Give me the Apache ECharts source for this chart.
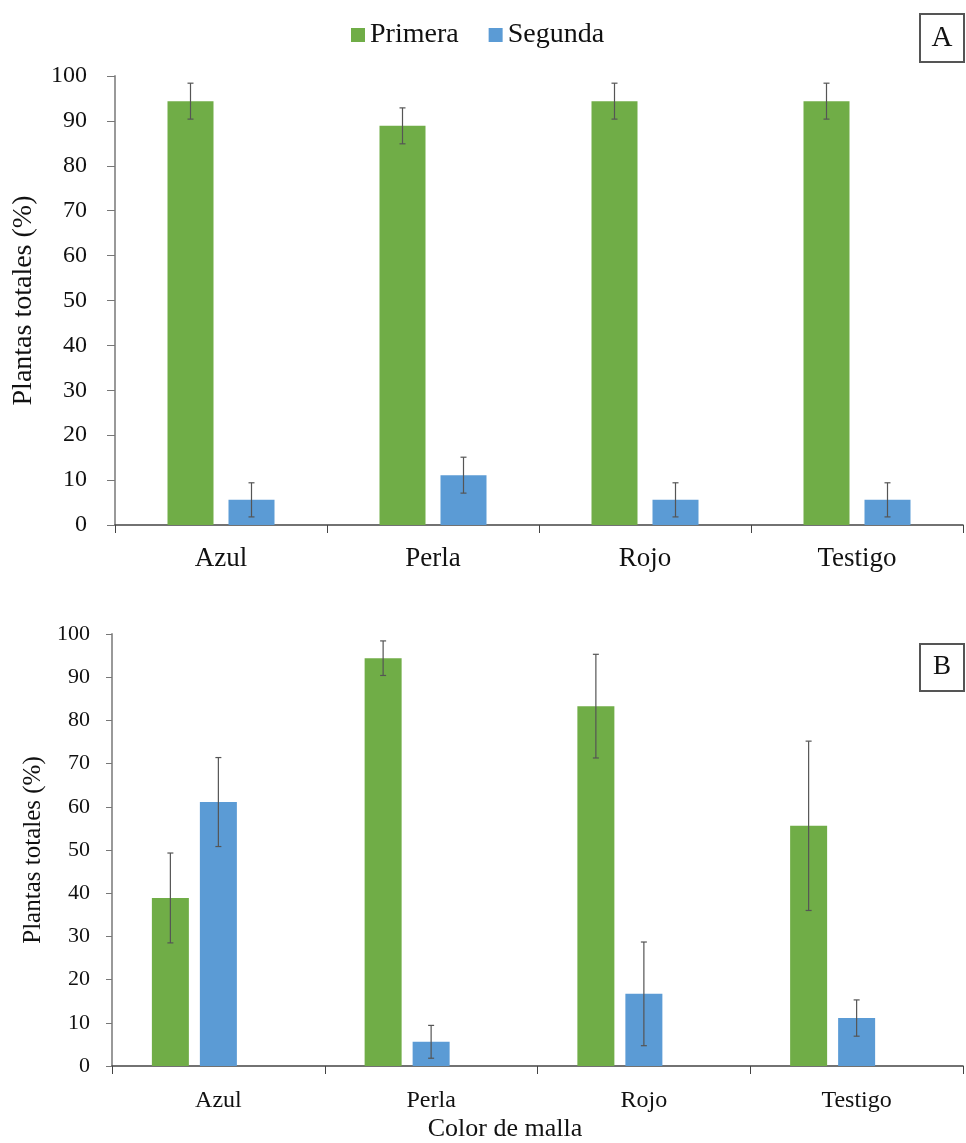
<!DOCTYPE html>
<html lang="es">
<head>
    <meta charset="UTF-8">
    <title>Plantas totales por color de malla</title>
    <script src="https://cdn.jsdelivr.net/npm/echarts@6/dist/echarts.min.js"></script>
    <style>
        html, body { margin: 0; padding: 0; background: #fff; }
        #chart { width: 966px; height: 1143px; }
    </style>
</head>
<body>
<div id="chart"></div>
<script type="text/javascript">
    // datos
    var categorias = ['Azul', 'Perla', 'Rojo', 'Testigo'];
    var leyenda = ['Primera', 'Segunda'];
    var ticksY = [0, 10, 20, 30, 40, 50, 60, 70, 80, 90, 100];

    // panel A
    var primeraA = [94.4, 88.9, 94.4, 94.4];
    var segundaA = [5.6, 11.1, 5.6, 5.6];
    var errPrimeraA = [4.0, 4.0, 4.0, 4.0];
    var errSegundaA = [3.8, 4.0, 3.8, 3.8];

    // panel B
    var primeraB = [38.9, 94.4, 83.3, 55.6];
    var segundaB = [61.1, 5.6, 16.7, 11.1];
    var errPrimeraB = [10.4, 4.0, 12.0, 19.6];
    var errSegundaB = [10.3, 3.8, 12.0, 4.2];

    var verde = '#70AD47';
    var azul = '#5B9BD5';
    var serif = "'Liberation Serif', 'Times New Roman', serif";

    // ancho de barra y separacion (px) de cada panel
    var anchoA = 46, sepA = 15;
    var anchoB = 37, sepB = 11;

    function errData(vals, errs) {
        return vals.map(function (v, i) { return [i, v - errs[i], v + errs[i]]; });
    }

    function errSerie(idx, vals, errs, offset) {
        return {
            type: 'custom',
            xAxisIndex: idx,
            yAxisIndex: idx,
            z: 10,
            silent: true,
            encode: { x: 0, y: [1, 2] },
            data: errData(vals, errs),
            renderItem: function (params, api) {
                var top = api.coord([api.value(0), api.value(2)]);
                var bot = api.coord([api.value(0), api.value(1)]);
                var x = top[0] + offset;
                var st = { stroke: '#555', lineWidth: 1.2 };
                return {
                    type: 'group',
                    children: [
                        { type: 'line', shape: { x1: x, y1: top[1], x2: x, y2: bot[1] }, style: st },
                        { type: 'line', shape: { x1: x - 3, y1: top[1], x2: x + 3, y2: top[1] }, style: st },
                        { type: 'line', shape: { x1: x - 3, y1: bot[1], x2: x + 3, y2: bot[1] }, style: st }
                    ]
                };
            }
        };
    }

    function yEje(idx, size, nameSize, margin, tickLen, gap) {
        return {
            type: 'value',
            gridIndex: idx,
            min: ticksY[0],
            max: ticksY[ticksY.length - 1],
            interval: 10,
            name: 'Plantas totales (%)',
            nameLocation: 'middle',
            nameGap: gap,
            nameTextStyle: { fontFamily: serif, fontSize: nameSize, color: '#111' },
            axisLine: { show: true, lineStyle: { color: '#999', width: 2 } },
            axisTick: { show: true, length: tickLen, lineStyle: { color: '#777' } },
            axisLabel: { fontFamily: serif, fontSize: size, color: '#111', margin: margin },
            splitLine: { show: false }
        };
    }

    function xEje(idx, size, margin) {
        return {
            type: 'category',
            gridIndex: idx,
            data: categorias,
            axisLine: { lineStyle: { color: '#444', width: 1.5 } },
            axisTick: { show: true, length: 8, lineStyle: { color: '#444' } },
            axisLabel: { fontFamily: serif, fontSize: size, color: '#111', margin: margin }
        };
    }

    var chart = echarts.init(document.getElementById('chart'));

    var option = {
        animation: false,
        backgroundColor: '#fff',
        legend: {
            data: leyenda,
            left: 346,
            top: 16,
            icon: 'rect',
            itemWidth: 14,
            itemHeight: 14,
            itemGap: 30,
            textStyle: { fontFamily: serif, fontSize: 28, color: '#111' }
        },
        grid: [
            { left: 115, right: 3, top: 76, height: 449 },
            { left: 112, right: 3, top: 634, height: 432 }
        ],
        xAxis: [xEje(0, 27, 20), xEje(1, 24, 23)],
        yAxis: [yEje(0, 24, 28, 28, 8, 77), yEje(1, 22, 25, 22, 6, 66)],
        series: [
            { name: 'Primera', type: 'bar', xAxisIndex: 0, yAxisIndex: 0, data: primeraA,
              barWidth: anchoA, barGap: (sepA / anchoA * 100) + '%', itemStyle: { color: verde } },
            { name: 'Segunda', type: 'bar', xAxisIndex: 0, yAxisIndex: 0, data: segundaA,
              barWidth: anchoA, itemStyle: { color: azul } },
            errSerie(0, primeraA, errPrimeraA, -(anchoA + sepA) / 2),
            errSerie(0, segundaA, errSegundaA, (anchoA + sepA) / 2),

            { name: 'Primera', type: 'bar', xAxisIndex: 1, yAxisIndex: 1, data: primeraB,
              barWidth: anchoB, barGap: (sepB / anchoB * 100) + '%', itemStyle: { color: verde } },
            { name: 'Segunda', type: 'bar', xAxisIndex: 1, yAxisIndex: 1, data: segundaB,
              barWidth: anchoB, itemStyle: { color: azul } },
            // hueco vacio de una tercera serie, como en la figura original
            { name: 'vacio', type: 'bar', xAxisIndex: 1, yAxisIndex: 1, data: ['-', '-', '-', '-'],
              barWidth: anchoB, itemStyle: { color: 'transparent' } },
            errSerie(1, primeraB, errPrimeraB, -(anchoB + sepB)),
            errSerie(1, segundaB, errSegundaB, 0)
        ],
        graphic: [
            { type: 'rect', left: 919, top: 13, shape: { width: 44, height: 48 },
              style: { fill: '#fff', stroke: '#555', lineWidth: 2 } },
            { type: 'text', x: 942, y: 38, style: { text: 'A', fontFamily: serif, fontSize: 29,
              fill: '#111', align: 'center', verticalAlign: 'middle' } },
            { type: 'rect', left: 919, top: 643, shape: { width: 44, height: 47 },
              style: { fill: '#fff', stroke: '#555', lineWidth: 2 } },
            { type: 'text', x: 942, y: 667, style: { text: 'B', fontFamily: serif, fontSize: 27,
              fill: '#111', align: 'center', verticalAlign: 'middle' } },
            { type: 'text', x: 505, y: 1129, style: { text: 'Color de malla', fontFamily: serif,
              fontSize: 26, fill: '#111', align: 'center', verticalAlign: 'middle' } }
        ]
    };

    chart.setOption(option);
</script>
</body>
</html>
